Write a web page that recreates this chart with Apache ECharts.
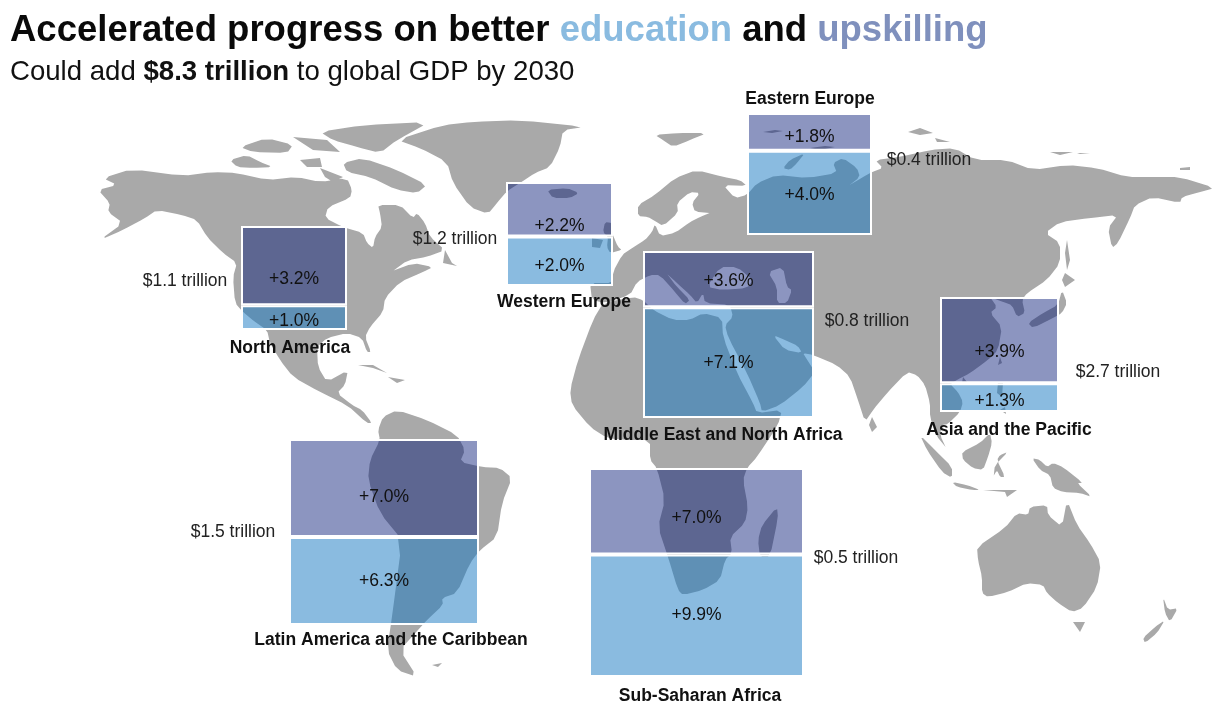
<!DOCTYPE html>
<html>
<head>
<meta charset="utf-8">
<style>html,body{margin:0;padding:0;background:#fff}#main{width:1222px;height:728px}</style>
<script src="https://cdn.jsdelivr.net/npm/echarts@6/dist/echarts.min.js"></script>
</head>
<body>
<div id="main"></div>
<script>
// values
var regions = ['North America', 'Western Europe', 'Eastern Europe', 'Middle East and North Africa',
    'Asia and the Pacific', 'Latin America and the Caribbean', 'Sub-Saharan Africa'];
var upskilling = [3.2, 2.2, 1.8, 3.6, 3.9, 7.0, 7.0];
var education = [1.0, 2.0, 4.0, 7.1, 1.3, 6.3, 9.9];
var trillions = [1.1, 1.2, 0.4, 0.8, 2.7, 1.5, 0.5];

// where each region's box and texts go: [left, top, right, bottom]
var boxes = [[241, 226, 347, 330], [506, 182, 613, 286], [747, 113, 872, 235], [643, 251, 814, 418],
    [940, 297, 1059, 412], [289, 439, 479, 625], [589, 468, 804, 677]];
var nameAt = [[290, 348], [564, 302], [810, 99], [723, 435], [1009, 430], [391, 640], [700, 696]];
var valueAt = [[185, 281], [455, 239], [929, 160], [867, 321], [1118, 372], [233, 532], [856, 558]];
var upOffset = [14, 17, 5, 2, 12, 9, 7];
var eduOffset = [4, 5, 2, 1, 4, 0, -1];

// base map traced in page pixels
var land = [
    // north america
    [[103,178],[132,169],[182,176],[213,172],[237,173],[267,180],[297,177],[320,182],[347,178],[352,190],[350,198],[328,207],[325,218],[343,227],[363,233],[367,243],[373,248],[375,237],[382,227],[380,213],[378,205],[400,205],[413,218],[417,213],[425,223],[430,237],[445,250],[427,257],[408,260],[390,273],[413,263],[433,267],[423,272],[400,282],[385,298],[383,312],[370,327],[365,337],[371,352],[367,352],[362,338],[347,333],[327,338],[317,347],[318,367],[327,382],[348,370],[345,385],[337,393],[352,405],[362,410],[372,423],[367,423],[347,405],[320,392],[293,377],[280,360],[270,343],[267,330],[255,322],[243,312],[235,303],[233,277],[237,263],[223,253],[207,237],[197,220],[182,215],[157,210],[145,218],[123,230],[100,240],[123,223],[108,212],[110,203],[98,190],[117,185]],
    // arctic canada
    [[230,160],[247,155],[260,162],[273,167],[253,168],[237,167]],
    [[343,163],[363,158],[397,170],[427,185],[417,193],[397,190],[370,177],[347,172]],
    [[320,132],[363,125],[430,122],[397,140],[380,153],[357,147],[333,140]],
    [[240,147],[267,138],[293,145],[287,153],[253,152]],
    [[300,160],[320,158],[322,167],[307,167]],
    [[293,137],[327,140],[340,152],[313,150]],
    [[320,168],[343,177],[333,182],[325,177]],
    [[445,250],[452,263],[457,266],[443,263]],
    // greenland, iceland, svalbard, britain, ireland
    [[443,125],[473,122],[520,120],[585,127],[563,130],[560,147],[550,167],[535,173],[520,183],[507,191],[497,203],[488,214],[470,207],[453,183],[447,162],[420,148],[397,140]],
    [[547,190],[567,188],[579,193],[570,198],[553,198]],
    [[655,135],[677,133],[707,133],[690,140],[673,147],[663,140]],
    [[605,222],[612,223],[612,233],[618,247],[622,250],[610,253],[607,247],[608,237],[603,232]],
    [[592,238],[603,240],[600,248],[592,247]],
    // caribbean
    [[358,365],[373,365],[387,373],[373,368]],
    [[388,377],[405,380],[397,383]],
    // south america
    [[383,417],[397,410],[427,420],[457,435],[465,450],[460,462],[482,467],[500,468],[512,478],[502,503],[497,537],[480,550],[470,563],[457,593],[442,598],[443,605],[427,620],[418,630],[400,650],[417,677],[397,670],[387,650],[392,617],[402,540],[380,513],[368,480],[370,460],[380,440],[378,430]],
    [[432,665],[442,663],[438,667]],
    // eurasia
    [[590,283],[613,283],[613,272],[622,255],[632,248],[645,240],[652,232],[655,224],[660,236],[675,233],[690,222],[700,217],[712,212],[695,212],[692,203],[700,193],[690,192],[677,203],[678,213],[663,226],[655,221],[648,217],[638,216],[638,205],[655,195],[675,178],[697,170],[723,177],[740,180],[747,186],[723,185],[735,198],[747,195],[757,183],[777,175],[808,178],[837,173],[833,163],[843,158],[857,168],[860,177],[847,187],[863,177],[872,172],[883,168],[875,160],[900,157],[930,150],[955,148],[975,160],[1007,160],[1033,170],[1067,165],[1097,168],[1127,177],[1153,177],[1180,177],[1215,188],[1200,192],[1182,197],[1180,203],[1153,197],[1135,205],[1130,218],[1118,243],[1112,248],[1108,228],[1118,215],[1090,218],[1060,222],[1045,233],[1060,243],[1060,263],[1047,280],[1027,293],[1022,300],[1025,313],[1017,317],[1012,305],[1003,302],[990,297],[997,307],[990,313],[1002,327],[998,350],[988,360],[970,373],[957,380],[950,384],[958,392],[963,402],[960,412],[948,424],[942,425],[940,435],[947,450],[936,435],[930,417],[930,403],[925,385],[917,375],[907,372],[887,393],[873,410],[865,422],[858,400],[850,377],[837,365],[813,355],[803,353],[806,358],[815,372],[803,387],[780,405],[762,412],[760,403],[747,373],[728,337],[725,325],[733,317],[730,305],[705,303],[703,293],[697,303],[690,295],[677,283],[665,272],[677,287],[690,300],[685,304],[675,292],[660,275],[650,275],[637,282],[630,295],[605,303],[592,300]],
    // africa, madagascar
    [[603,303],[633,297],[643,300],[653,310],[673,320],[690,320],[703,313],[722,318],[723,337],[737,373],[753,403],[757,413],[782,410],[778,425],[757,457],[747,468],[743,480],[748,507],[745,523],[730,537],[732,553],[725,560],[720,580],[703,590],[683,595],[678,590],[668,557],[658,527],[665,500],[657,468],[650,460],[650,440],[625,440],[607,438],[590,427],[572,405],[570,390],[578,360],[593,320]],
    [[777,507],[778,518],[770,557],[760,557],[758,540],[762,525]],
    // russian arctic islands
    [[783,168],[790,160],[805,153],[797,163],[790,170]],
    [[763,132],[775,130],[783,131],[772,133]],
    [[810,148],[825,146],[835,147],[820,150]],
    [[908,132],[920,128],[933,133],[920,135]],
    [[935,138],[950,142],[937,142]],
    [[1050,152],[1073,152],[1060,155]],
    [[1077,153],[1090,153],[1080,154]],
    [[1180,168],[1190,167],[1190,170],[1180,170]],
    // japan, sakhalin, taiwan, hainan, philippines, sri lanka
    [[1065,273],[1075,280],[1065,287],[1062,280]],
    [[1062,290],[1067,303],[1062,313],[1053,318],[1033,328],[1028,323],[1043,313],[1058,305]],
    [[1067,240],[1070,260],[1067,270],[1065,253]],
    [[1000,357],[1002,363],[998,365]],
    [[963,377],[967,382],[962,383]],
    [[998,382],[1003,383],[1002,397],[997,393]],
    [[1005,407],[1000,410],[1006,414]],
    [[872,417],[877,427],[872,432],[869,425]],
    // indonesia, new guinea
    [[920,435],[935,450],[952,467],[952,478],[942,472],[927,450]],
    [[980,443],[990,433],[992,443],[988,457],[983,470],[973,468],[963,460],[962,452]],
    [[995,465],[1008,452],[1000,455],[997,460],[1005,477],[1000,477],[997,470],[993,477]],
    [[952,482],[967,485],[980,490],[973,490],[957,487]],
    [[983,490],[1017,490],[1007,497],[1005,492]],
    [[1032,458],[1040,460],[1047,467],[1053,463],[1063,467],[1083,483],[1077,483],[1092,497],[1080,493],[1063,492],[1053,488],[1050,475],[1040,470]],
    // australia, tasmania, new zealand
    [[977,547],[1005,528],[1017,513],[1028,515],[1030,507],[1047,505],[1048,515],[1062,527],[1067,500],[1077,525],[1090,543],[1101,563],[1097,587],[1083,608],[1072,612],[1058,603],[1047,593],[1043,585],[1027,583],[1008,592],[988,597],[982,593],[982,577],[978,560]],
    [[1073,622],[1085,622],[1080,632]],
    [[1163,597],[1168,610],[1178,608],[1170,622],[1165,613]],
    [[1165,620],[1157,633],[1145,643],[1143,638],[1155,627]]
];
// seas that sit inside the land shapes
var water = [
    [[707,287],[720,267],[737,267],[753,280],[747,288],[723,290]],
    [[768,272],[783,267],[787,287],[792,290],[787,303],[777,303],[777,287]],
    [[773,335],[785,350],[802,353],[798,346],[785,340]]
];

// cut the corners once so the traced coast looks less angular
function soften(s) {
    if (s.length < 5) return s;
    var out = [];
    s.forEach(function (p, i) {
        var q = s[(i + 1) % s.length];
        out.push([p[0] * 0.8 + q[0] * 0.2, p[1] * 0.8 + q[1] * 0.2]);
        out.push([p[0] * 0.2 + q[0] * 0.8, p[1] * 0.2 + q[1] * 0.8]);
    });
    return out;
}

function toFeature(name, shapes) {
    return {
        type: 'Feature',
        properties: {name: name},
        geometry: {
            type: 'MultiPolygon',
            coordinates: shapes.map(function (s) {
                return [soften(s).map(function (p) { return [p[0], -p[1]]; })];
            })
        }
    };
}
echarts.registerMap('world', {
    type: 'FeatureCollection',
    features: [toFeature('land', land), toFeature('water', water)]
});

var grids = [], xAxes = [], yAxes = [], series = [], texts = [];
var font = '"Liberation Sans", Arial, sans-serif';

function barLabel(offset) {
    return {
        show: true,
        position: 'inside',
        offset: [0, offset],
        color: '#111',
        fontFamily: font,
        fontSize: 17.5,
        formatter: function (p) { return '+' + p.value.toFixed(1) + '%'; }
    };
}

regions.forEach(function (name, i) {
    var b = boxes[i];
    grids.push({left: b[0], top: b[1], width: b[2] - b[0], height: b[3] - b[1]});
    xAxes.push({type: 'category', gridIndex: i, data: [name], show: false});
    yAxes.push({type: 'value', gridIndex: i, min: 0, max: education[i] + upskilling[i], show: false});
    series.push({
        name: 'education', type: 'bar', stack: 'r' + i, xAxisIndex: i, yAxisIndex: i,
        barWidth: '100%', silent: true, data: [education[i]],
        itemStyle: {color: 'rgba(21,119,194,0.5)', borderColor: '#fff', borderWidth: 2},
        label: barLabel(eduOffset[i])
    });
    series.push({
        name: 'upskilling', type: 'bar', stack: 'r' + i, xAxisIndex: i, yAxisIndex: i,
        barWidth: '100%', silent: true, data: [upskilling[i]],
        itemStyle: {color: 'rgba(0,20,115,0.45)', borderColor: '#fff', borderWidth: 2},
        label: barLabel(upOffset[i])
    });
    texts.push({
        type: 'text', x: nameAt[i][0], y: nameAt[i][1], z: 100, silent: true,
        style: {text: name, fill: '#111', font: 'bold 17.5px ' + font, align: 'center', verticalAlign: 'middle'}
    });
    texts.push({
        type: 'text', x: valueAt[i][0], y: valueAt[i][1], z: 100, silent: true,
        style: {text: '$' + trillions[i].toFixed(1) + ' trillion', fill: '#222', font: '17.5px ' + font, align: 'center', verticalAlign: 'middle'}
    });
});

var myChart = echarts.init(document.getElementById('main'));
myChart.setOption({
    animation: false,
    backgroundColor: '#fff',
    title: [{
        left: 10, top: 12, padding: 0,
        text: 'Accelerated progress on better {edu|education} and {up|upskilling}',
        textStyle: {
            color: '#0a0a0a', fontFamily: font, fontSize: 36.5, fontWeight: 'bold',
            rich: {
                edu: {color: '#8abbe0', fontFamily: font, fontSize: 36.5, fontWeight: 'bold'},
                up: {color: '#7f90bd', fontFamily: font, fontSize: 36.5, fontWeight: 'bold'}
            }
        }
    }, {
        left: 10, top: 58, padding: 0,
        text: 'Could add {b|$8.3 trillion} to global GDP by 2030',
        textStyle: {
            color: '#111', fontFamily: font, fontSize: 27.6, fontWeight: 'normal',
            rich: {b: {color: '#111', fontFamily: font, fontSize: 27.6, fontWeight: 'bold'}}
        }
    }],
    geo: {
        map: 'world',
        silent: true,
        roam: false,
        aspectScale: 1,
        boundingCoords: [[0, 0], [1222, -728]],
        left: 0, top: 0, width: 1222, height: 728,
        itemStyle: {areaColor: '#a9a9a9', borderWidth: 0, borderColor: '#a9a9a9'},
        regions: [{name: 'water', itemStyle: {areaColor: '#fff'}}]
    },
    grid: grids,
    xAxis: xAxes,
    yAxis: yAxes,
    series: series,
    graphic: {elements: texts}
});
</script>
</body>
</html>
